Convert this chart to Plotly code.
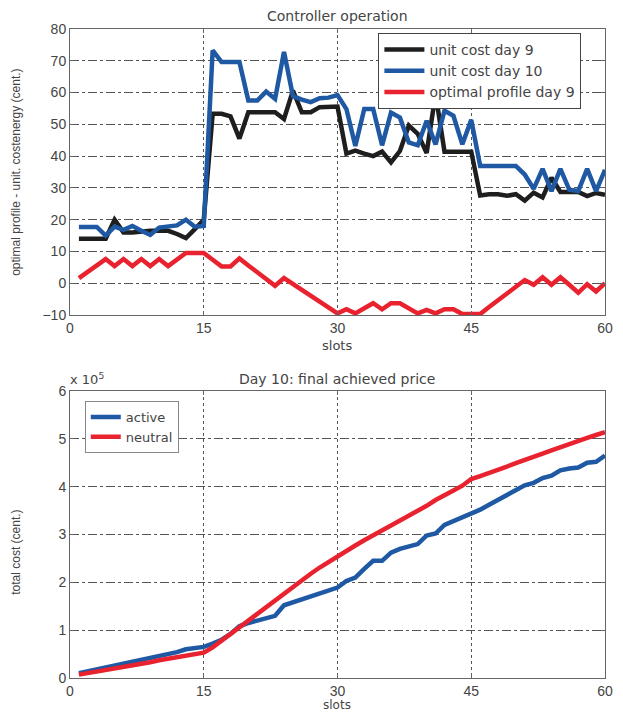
import plotly.graph_objects as go

slots = list(range(1, 61))

unit_cost_day9 = [14, 14, 14, 14, 20, 16, 16, 16.3, 16.5, 16.5, 16.5, 15.5, 14.2, 17, 20,
                  53.3, 53.3, 52.5, 45.5, 53.8, 53.8, 53.8, 53.8, 51.7, 60.6, 53.8, 53.8, 55.4, 55.6, 55.6,
                  40.8, 41.7, 40.8, 40, 41.4, 38, 41.6, 49.6, 47, 41, 59.6, 41.4, 41.4, 41.4, 41.4,
                  27.6, 28, 28, 27.5, 28, 26, 28.5, 27, 33.2, 28.7, 28.7, 28.7, 27.4, 28.4, 27.8]

unit_cost_day10 = [17.7, 17.7, 17.7, 15, 17.8, 16.8, 18, 16.5, 15.2, 17.5, 18, 18.2, 20, 17.8, 18,
                   73.3, 69.6, 69.6, 69.6, 57.5, 57.5, 60.3, 58, 72.8, 58.9, 57.8, 57, 58.2, 58.4, 59.2,
                   54.8, 43.2, 54.8, 54.8, 43.4, 53.7, 52.1, 44.3, 43.4, 51.1, 43.7, 54.3, 52.7, 43.7, 51.4,
                   36.9, 36.9, 36.9, 36.9, 36.9, 34.2, 29.7, 36, 29, 36, 29.4, 29, 36, 29, 35.7]

optimal_profile_day9 = [1.6, 3.6, 5.6, 7.6, 5.4, 7.6, 5.4, 7.6, 5.4, 7.6, 5.4, 7.5, 9.5, 9.5, 9.5,
                        7.4, 5.3, 5.3, 7.8, 5.6, 3.5, 1.3, -0.8, 1.6, -0.3, -2.2, -4, -5.8, -7.7, -9.5,
                        -8.2, -9.5, -7.9, -6.3, -8.2, -6.3, -6.3, -7.9, -9.5, -8.4, -9.5, -8.2, -8.2, -9.7, -9.7,
                        -9.7, -7.5, -5.3, -3.1, -0.9, 1, -0.5, 1.9, -0.5, 1.9, -0.5, -3, -0.3, -2.6, 0]

# total cost in cents
active = [v * 1e5 for v in [
    0.10, 0.14, 0.18, 0.22, 0.26, 0.29, 0.33, 0.37, 0.40, 0.44, 0.48, 0.54, 0.60, 0.62, 0.65,
    0.72, 0.80, 0.92, 1.08, 1.15, 1.20, 1.25, 1.30, 1.52, 1.58, 1.65, 1.71, 1.78, 1.84, 1.89,
    2.03, 2.10, 2.28, 2.45, 2.45, 2.62, 2.70, 2.74, 2.80, 2.98, 3.02, 3.20, 3.28, 3.34, 3.42,
    3.52, 3.62, 3.72, 3.82, 3.92, 4.03, 4.08, 4.18, 4.23, 4.34, 4.38, 4.40, 4.50, 4.52, 4.65]]

neutral = [v * 1e5 for v in [
    0.07, 0.10, 0.14, 0.17, 0.20, 0.23, 0.27, 0.30, 0.33, 0.37, 0.40, 0.43, 0.47, 0.50, 0.53,
    0.64, 0.78, 0.93, 1.08, 1.22, 1.36, 1.50, 1.64, 1.78, 1.92, 2.05, 2.18, 2.31, 2.43, 2.55,
    2.66, 2.77, 2.88, 2.98, 3.08, 3.19, 3.30, 3.40, 3.49, 3.60, 3.72, 3.83, 3.92, 4.02, 4.16,
    4.22, 4.28, 4.35, 4.42, 4.49, 4.55, 4.62, 4.69, 4.76, 4.83, 4.89, 4.96, 5.02, 5.08, 5.14]]

x_ticks = [0, 15, 30, 45, 60]
top_y_ticks = [-10, 0, 10, 20, 30, 40, 50, 60, 70, 80]
bottom_y_ticks = [0, 1e5, 2e5, 3e5, 4e5, 5e5, 6e5]
bottom_y_ticklabels = ["0", "1", "2", "3", "4", "5", "6"]

BLACK = "#1e1e1e"
BLUE = "#1f58a3"
RED = "#e8232f"
TXT = "#444444"
FONT = "Liberation Sans"
TFONT = "DejaVu Sans"
NFONT = "Liberation Sans Narrow, Liberation Sans"

fig = go.Figure()
lw = 4.5
fig.add_trace(go.Scatter(x=slots, y=unit_cost_day9, mode="lines", name="unit cost day 9",
                         line=dict(color=BLACK, width=lw), xaxis="x", yaxis="y", legend="legend"))
fig.add_trace(go.Scatter(x=slots, y=unit_cost_day10, mode="lines", name="unit cost day 10",
                         line=dict(color=BLUE, width=lw), xaxis="x", yaxis="y", legend="legend"))
fig.add_trace(go.Scatter(x=slots, y=optimal_profile_day9, mode="lines", name="optimal profile day 9",
                         line=dict(color=RED, width=lw), xaxis="x", yaxis="y", legend="legend"))
fig.add_trace(go.Scatter(x=slots, y=active, mode="lines", name="active",
                         line=dict(color=BLUE, width=lw), xaxis="x2", yaxis="y2", legend="legend2"))
fig.add_trace(go.Scatter(x=slots, y=neutral, mode="lines", name="neutral",
                         line=dict(color=RED, width=lw), xaxis="x2", yaxis="y2", legend="legend2"))

W, H = 623, 713
L, T = 70, 29
R = W - 613
B = H - 678
ph = H - T - B
pw = W - L - R

def py(page_y):
    return (H - B - page_y) / ph

def px(page_x):
    return (page_x - L) / pw

axis_common = dict(
    showline=True, linecolor="#666666", linewidth=1, mirror="ticks",
    ticks="inside", ticklen=4, tickcolor="#666666",
    showgrid=True, gridcolor="#555555", gridwidth=1,
    zeroline=False, tickfont=dict(family=FONT, size=14, color=TXT),
)

fig.update_layout(
    width=W, height=H,
    margin=dict(l=L, r=R, t=T, b=B),
    paper_bgcolor="white", plot_bgcolor="white",
    showlegend=True,
    xaxis=dict(axis_common, domain=[0, 1], range=[0, 60], tickvals=x_ticks, anchor="y",
               griddash="dot"),
    yaxis=dict(axis_common, domain=[py(315), 1], range=[-10, 80], tickvals=top_y_ticks, anchor="x",
               griddash="dashdot"),
    xaxis2=dict(axis_common, domain=[0, 1], range=[0, 60], tickvals=x_ticks, anchor="y2",
                griddash="dot"),
    yaxis2=dict(axis_common, domain=[0, py(391)], range=[0, 6e5], tickvals=bottom_y_ticks,
                ticktext=bottom_y_ticklabels, anchor="x2", griddash="dashdot"),
    legend=dict(x=px(383), y=py(33), xanchor="left", yanchor="top",
                bgcolor="white", bordercolor="#444444", borderwidth=1,
                font=dict(family=TFONT, size=14, color=TXT), tracegroupgap=0,
                itemwidth=40),
    legend2=dict(x=px(85), y=py(401), xanchor="left", yanchor="top",
                 bgcolor="white", bordercolor="#888888", borderwidth=1,
                 font=dict(family=TFONT, size=13, color=TXT), tracegroupgap=0),
    annotations=[
        dict(text="Controller operation", x=px(341), y=py(16), xref="paper", yref="paper",
             showarrow=False, font=dict(family=TFONT, size=14, color=TXT), yanchor="middle"),
        dict(text="Day 10: final achieved price", x=px(341), y=py(379), xref="paper", yref="paper",
             showarrow=False, font=dict(family=TFONT, size=14, color=TXT), yanchor="middle"),
        dict(text="slots", x=px(341), y=py(345), xref="paper", yref="paper",
             showarrow=False, font=dict(family=TFONT, size=13, color=TXT), yanchor="middle"),
        dict(text="slots", x=px(341), y=py(712.5), xref="paper", yref="paper", borderpad=0,
             showarrow=False, font=dict(family=TFONT, size=12, color=TXT), yanchor="bottom"),
        dict(text="optimal profile - unit. costenergy (cent.)", x=px(15), y=py(172), xref="paper",
             yref="paper", showarrow=False, textangle=-90,
             font=dict(family=NFONT, size=12, color=TXT), xanchor="center", yanchor="middle"),
        dict(text="total cost (cent.)", x=px(15), y=py(552), xref="paper",
             yref="paper", showarrow=False, textangle=-90,
             font=dict(family=NFONT, size=12, color=TXT), xanchor="center", yanchor="middle"),
        dict(text="x 10<sup>5</sup>", x=px(68), y=py(379), xref="paper", yref="paper",
             showarrow=False, xanchor="left", yanchor="middle",
             font=dict(family=TFONT, size=13, color=TXT)),
    ],
)

fig.write_html("out.html", config={"displayModeBar": False},
               post_script="document.body.style.margin='0px';")
